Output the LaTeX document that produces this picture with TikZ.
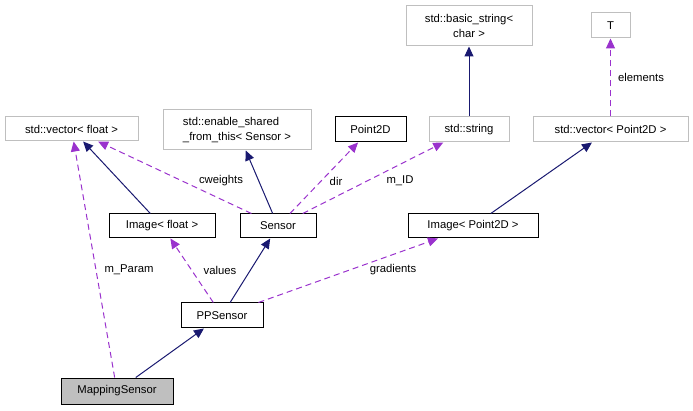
\documentclass[tikz,border=0pt]{standalone}
\usepackage{fontspec}
\setmainfont{Liberation Sans}
\usetikzlibrary{arrows.meta}
\definecolor{inhcol}{HTML}{191970}
\definecolor{memcol}{HTML}{9A32CD}
\definecolor{extcol}{HTML}{BFBFBF}
\begin{document}
\begin{tikzpicture}
  [x=1pt,y=-1pt,every node/.style={font=\fontsize{11.3}{14.5}\selectfont,inner sep=0pt},
   cls/.style={draw=black,line width=1pt,rectangle},
   ext/.style={draw=extcol,line width=1pt,rectangle},
   cur/.style={cls,fill=extcol},
   inh/.style={draw=inhcol,line width=1pt,-{Triangle[length=10pt,width=9pt]}},
   mem/.style={draw=memcol,line width=1pt,dash pattern=on 6pt off 4pt,-{Triangle[length=10pt,width=9pt]}}]
  \useasboundingbox (0,0) rectangle (693,411);
  \node[cur,minimum width=112pt,minimum height=26pt] (ms) at (117,391) {MappingSensor};
  \node[cls,minimum width=82pt,minimum height=25pt] (pp) at (222,315.5) {PPSensor};
  \node[cls,minimum width=106pt,minimum height=24pt] (if) at (162,226) {Image< float >};
  \node[cls,minimum width=76pt,minimum height=24pt] (se) at (278,226) {Sensor};
  \node[cls,minimum width=130pt,minimum height=24pt] (ip) at (473,226) {Image< Point2D >};
  \node[ext,minimum width=133pt,minimum height=24pt] (vf) at (71.5,129) {std::vector< float >};
  \node[ext,minimum width=148pt,minimum height=40pt,align=left] (es) at (237,130) {std::enable\_shared\\\_from\_this< Sensor >};
  \node[cls,minimum width=71pt,minimum height=25pt] (p2) at (370.5,129.5) {Point2D};
  \node[ext,minimum width=80pt,minimum height=25pt] (st) at (469,129.5) {std::string};
  \node[ext,minimum width=126pt,minimum height=40pt,align=center] (bs) at (469,26) {std::basic\_string<\\char >};
  \node[ext,minimum width=155pt,minimum height=25pt] (vp) at (610.5,129.5) {std::vector< Point2D >};
  \node[ext,minimum width=39pt,minimum height=25pt] (t) at (610.5,25.5) {T};

  \foreach \from/\to in {ms/pp, pp/se, if/vf, se/es, st/bs, ip/vp}
  \draw[inh] (\from) -- (\to);

  \foreach \from/\to/\lab/\lx/\ly in {ms/vf/m\_Param/129/270, pp/if/values/220/270,
      pp/ip/gradients/393/270, se/vf/cweights/221/181, se/p2/dir/336/181,
      se/st/m\_ID/400/181, vp/t/elements/641/77}
  {
    \draw[mem] (\from) -- (\to);
    \node (l-\from-\to) at (\lx,\ly) {\lab};
  }
\end{tikzpicture}
\end{document}
